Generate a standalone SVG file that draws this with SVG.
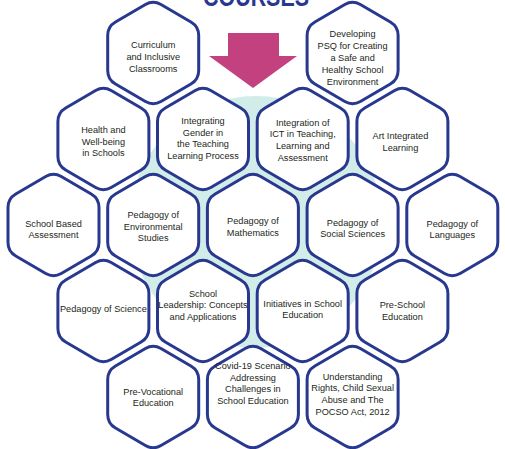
<svg xmlns="http://www.w3.org/2000/svg" xmlns:xlink="http://www.w3.org/1999/xlink" width="505" height="449" viewBox="0 0 505 449">
<defs>
<style>
.hex{fill:#ffffff;stroke:#29388f;stroke-width:3}
.t{font-family:"Liberation Sans",Arial,sans-serif;font-size:9.2px;fill:#231f20;text-anchor:middle}
.title{font-family:"Liberation Sans",Arial,sans-serif;font-weight:bold;font-size:28px;fill:#29388f;text-anchor:middle}
</style>
<path id="hex" class="hex" d="M7.78,-48.47 L37.72,-31.03 Q45.5,-26.5 45.5,-17.5 L45.5,17.5 Q45.5,26.5 37.72,31.03 L7.78,48.47 Q0,53 -7.78,48.47 L-37.72,31.03 Q-45.5,26.5 -45.5,17.5 L-45.5,-17.5 Q-45.5,-26.5 -37.72,-31.03 L-7.78,-48.47 Q0,-53 7.78,-48.47 Z"/>
</defs>
<rect width="505" height="449" fill="#ffffff"/>
<circle id="backdrop" cx="256" cy="222" r="126" fill="#d2ecea"/>
<text class="title" x="256" y="6" textLength="106" lengthAdjust="spacingAndGlyphs">COURSES</text>

<g id="n-curriculum" transform="translate(153.2,53)"><use xlink:href="#hex"/>
<text class="t"><tspan x="0" y="-5">Curriculum</tspan><tspan x="0" y="7">and Inclusive</tspan><tspan x="0" y="19">Classrooms</tspan></text></g>
<g id="n-psq" transform="translate(352.6,53)"><use xlink:href="#hex"/>
<text class="t"><tspan x="0" y="-16">Developing</tspan><tspan x="0" y="-4">PSQ for Creating</tspan><tspan x="0" y="8">a Safe and</tspan><tspan x="0" y="20">Healthy School</tspan><tspan x="0" y="32">Environment</tspan></text></g>

<g id="n-health" transform="translate(103.4,139)"><use xlink:href="#hex"/>
<text class="t"><tspan x="0" y="-6.5">Health and</tspan><tspan x="0" y="5.5">Well-being</tspan><tspan x="0" y="17">in Schools</tspan></text></g>
<g id="n-gender" transform="translate(203,139)"><use xlink:href="#hex"/>
<text class="t"><tspan x="0" y="-15.5">Integrating</tspan><tspan x="0" y="-3.5">Gender in</tspan><tspan x="0" y="8">the Teaching</tspan><tspan x="0" y="20">Learning Process</tspan></text></g>
<g id="n-ict" transform="translate(302.7,139)"><use xlink:href="#hex"/>
<text class="t"><tspan x="0" y="-13.5">Integration of</tspan><tspan x="0" y="-2">ICT in Teaching,</tspan><tspan x="0" y="10">Learning and</tspan><tspan x="0" y="22">Assessment</tspan></text></g>
<g id="n-art" transform="translate(402.4,139)"><use xlink:href="#hex"/>
<text class="t"><tspan x="-2" y="-0.5">Art Integrated</tspan><tspan x="-2" y="11.5">Learning</tspan></text></g>

<g id="n-sba" transform="translate(53.5,225)"><use xlink:href="#hex"/>
<text class="t"><tspan x="0" y="1.5">School Based</tspan><tspan x="0" y="12.5">Assessment</tspan></text></g>
<g id="n-evs" transform="translate(153.2,225)"><use xlink:href="#hex"/>
<text class="t"><tspan x="0" y="-7.5">Pedagogy of</tspan><tspan x="0" y="4.5">Environmental</tspan><tspan x="0" y="15.5">Studies</tspan></text></g>
<g id="n-math" transform="translate(252.9,225)"><use xlink:href="#hex"/>
<text class="t"><tspan x="0" y="-1.5">Pedagogy of</tspan><tspan x="0" y="10.5">Mathematics</tspan></text></g>
<g id="n-social" transform="translate(352.6,225)"><use xlink:href="#hex"/>
<text class="t"><tspan x="0" y="0.5">Pedagogy of</tspan><tspan x="0" y="11.5">Social Sciences</tspan></text></g>
<g id="n-lang" transform="translate(452.3,225)"><use xlink:href="#hex"/>
<text class="t"><tspan x="0" y="1.5">Pedagogy of</tspan><tspan x="0" y="12.5">Languages</tspan></text></g>

<g id="n-science" transform="translate(103.4,311)"><use xlink:href="#hex"/>
<text class="t"><tspan x="0" y="0.5">Pedagogy of Science</tspan></text></g>
<g id="n-leadership" transform="translate(203,311)"><use xlink:href="#hex"/>
<text class="t"><tspan x="0" y="-14.5">School</tspan><tspan x="0" y="-3.5">Leadership: Concepts</tspan><tspan x="0" y="8.5">and Applications</tspan></text></g>
<g id="n-initiatives" transform="translate(302.7,311)"><use xlink:href="#hex"/>
<text class="t"><tspan x="0" y="-4.5">Initiatives in School</tspan><tspan x="0" y="6.5">Education</tspan></text></g>
<g id="n-preschool" transform="translate(402.4,311)"><use xlink:href="#hex"/>
<text class="t"><tspan x="0" y="-3.5">Pre-School</tspan><tspan x="0" y="8.5">Education</tspan></text></g>

<g id="n-prevoc" transform="translate(153.2,397)"><use xlink:href="#hex"/>
<text class="t"><tspan x="0" y="-2.5">Pre-Vocational</tspan><tspan x="0" y="8.5">Education</tspan></text></g>
<g id="n-covid" transform="translate(252.9,397)"><use xlink:href="#hex"/>
<text class="t"><tspan x="0" y="-28.5">Covid-19 Scenario</tspan><tspan x="0" y="-16.5">Addressing</tspan><tspan x="0" y="-5.5">Challenges in</tspan><tspan x="0" y="6.5">School Education</tspan></text></g>
<g id="n-posco" transform="translate(352.6,397)"><use xlink:href="#hex"/>
<text class="t"><tspan x="0" y="-17.5">Understanding</tspan><tspan x="0" y="-6.5">Rights, Child Sexual</tspan><tspan x="0" y="5.5">Abuse and The</tspan><tspan x="0" y="17.5">POCSO Act, 2012</tspan></text></g>

<g id="connectors">
<polygon id="arrow" points="228,33 279,33 279,56 297,56 253,88 209,56 228,56" fill="#c4417f"/>
</g>
</svg>
